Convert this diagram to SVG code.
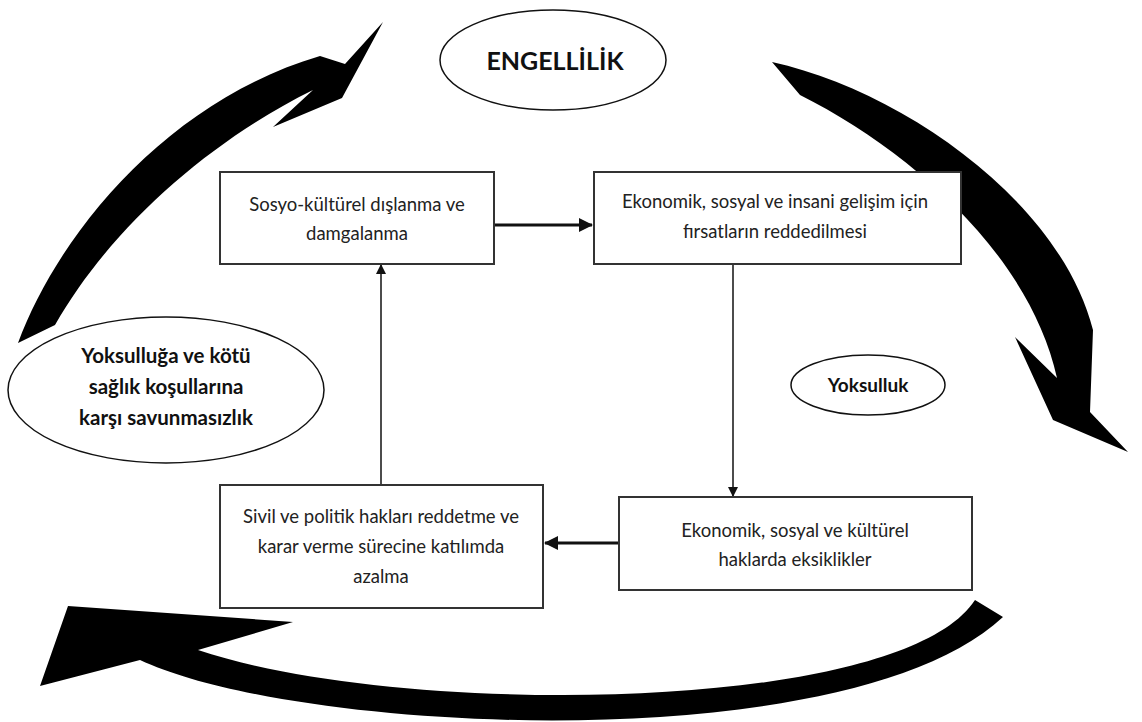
<svg xmlns="http://www.w3.org/2000/svg" width="1142" height="722" viewBox="0 0 1142 722">
<style>
.box{fill:#fff;stroke:#333;stroke-width:2}
.ell{fill:#fff;stroke:#111;stroke-width:1.5}
.t{font-family:Lato,"Open Sans",sans-serif;font-size:18.5px;fill:#222;text-anchor:middle}
.b{font-family:Lato,"Open Sans",sans-serif;font-weight:bold;fill:#111;text-anchor:middle}
.big{fill:#000}
.thick{stroke:#111;stroke-width:3;fill:none}
.thin{stroke:#111;stroke-width:1.5;fill:none}
</style>
<defs>
<marker id="ah" markerWidth="10" markerHeight="10" refX="9" refY="5" orient="auto" markerUnits="userSpaceOnUse"><path d="M0,0 L10,5 L0,10 Z" fill="#111"/></marker>
<marker id="ah2" markerWidth="14" markerHeight="14" refX="13" refY="7" orient="auto" markerUnits="userSpaceOnUse"><path d="M0,0 L14,7 L0,14 Z" fill="#111"/></marker>
</defs>
<g id="big-arrows">
<path class="big" d="M18,343 C60,230 170,100 320,56 L345,64 L383,22 L342,98 L273,127 L313,90 C212,140 112,225 55,325 Z"/>
<path class="big" d="M772,62 C900,90 1060,200 1093,330 L1090,412 L1128,452 L1053,420 L1015,337 L1057,378 C1030,255 910,150 800,95 Z"/>
<path class="big" d="M975,600 C900,715 400,718 198,650 L293,622 L68,606 L40,686 L140,660 C300,735 850,760 1003,617 Z"/>
</g>
<g id="connectors">
<line class="thick" x1="494" y1="225" x2="592" y2="225" marker-end="url(#ah2)"/>
<line class="thin" x1="733" y1="250" x2="733" y2="496" marker-end="url(#ah)"/>
<line class="thick" x1="619" y1="543" x2="545" y2="543" marker-end="url(#ah2)"/>
<line class="thin" x1="381" y1="485" x2="381" y2="265" marker-end="url(#ah)"/>
</g>
<g id="engellilik"><ellipse class="ell" cx="553" cy="60" rx="113" ry="50"/><text class="b" x="555" y="70" font-size="25">ENGELLİLİK</text></g>
<g id="yoksulluga"><ellipse class="ell" cx="166" cy="390" rx="158" ry="73"/>
<text class="b" x="166" y="363" font-size="20.5">Yoksulluğa ve kötü</text>
<text class="b" x="166" y="394" font-size="20.5">sağlık koşullarına</text>
<text class="b" x="166" y="425" font-size="20.5">karşı savunmasızlık</text></g>
<g id="yoksulluk"><ellipse class="ell" cx="868" cy="385" rx="77" ry="30"/><text class="b" x="868" y="392" font-size="19">Yoksulluk</text></g>
<g id="sosyo"><rect class="box" x="220" y="172" width="274" height="92"/>
<text class="t" x="357" y="211">Sosyo-kültürel dışlanma ve</text>
<text class="t" x="357" y="240">damgalanma</text></g>
<g id="firsat"><rect class="box" x="594" y="172" width="367" height="92"/>
<text class="t" x="775" y="208">Ekonomik, sosyal ve insani gelişim için</text>
<text class="t" x="775" y="238">fırsatların reddedilmesi</text></g>
<g id="haklar"><rect class="box" x="619" y="497" width="353" height="93"/>
<text class="t" x="795" y="537">Ekonomik, sosyal ve kültürel</text>
<text class="t" x="795" y="566">haklarda eksiklikler</text></g>
<g id="sivil"><rect class="box" x="220" y="485" width="323" height="123"/>
<text class="t" x="381" y="523">Sivil ve politik hakları reddetme ve</text>
<text class="t" x="381" y="553">karar verme sürecine katılımda</text>
<text class="t" x="381" y="583">azalma</text></g>
</svg>
